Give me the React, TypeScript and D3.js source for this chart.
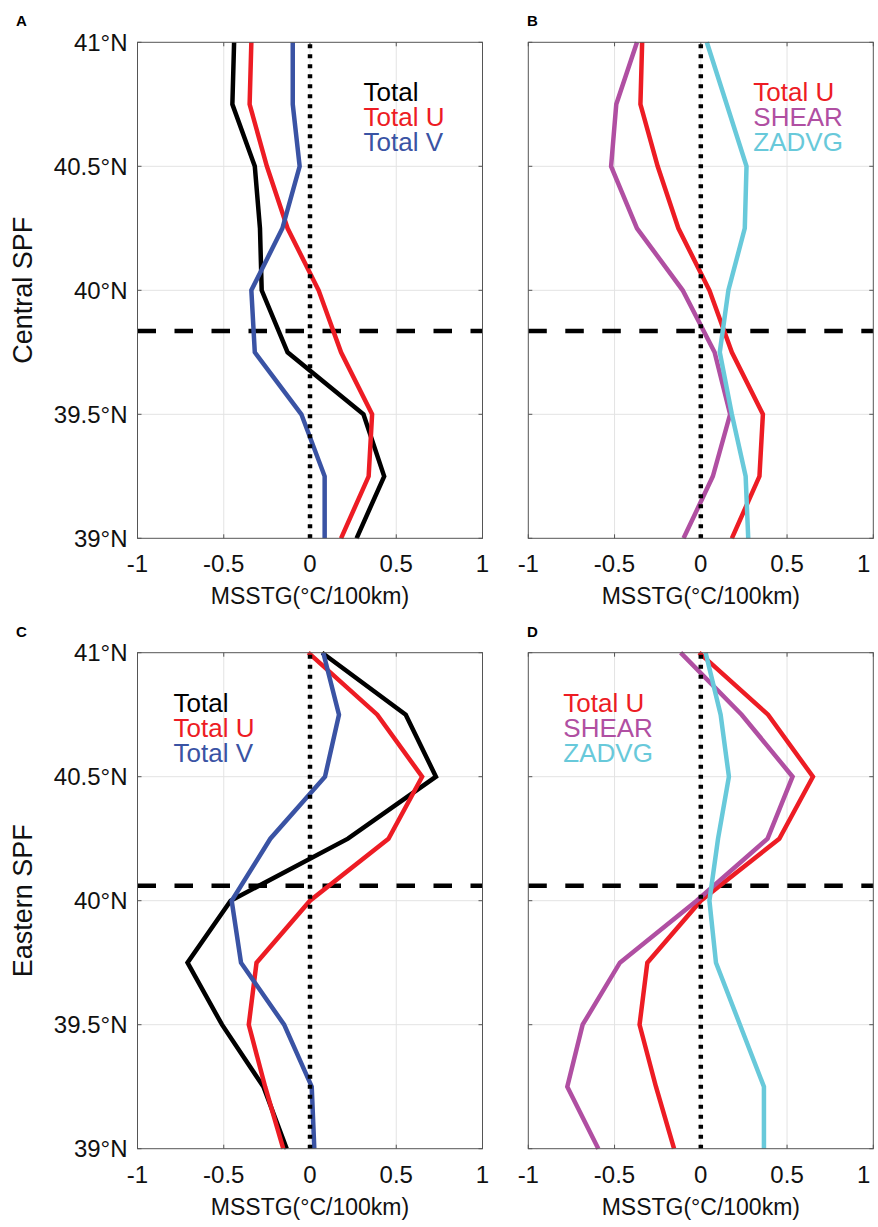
import { useEffect, useRef } from 'react';
import * as d3 from 'd3';

// latitude levels (top to bottom)
const lats = [41, 40.75, 40.5, 40.25, 40, 39.75, 39.5, 39.25, 39];

// Central SPF
const centralTotal = [-0.44, -0.45, -0.32, -0.29, -0.28, -0.13, 0.31, 0.43, 0.27];
const centralTotalU = [-0.34, -0.35, -0.25, -0.13, 0.05, 0.18, 0.36, 0.34, 0.18];
const centralTotalV = [-0.1, -0.1, -0.06, -0.16, -0.34, -0.32, -0.05, 0.085, 0.085];
const centralShear = [-0.37, -0.49, -0.52, -0.37, -0.105, 0.08, 0.17, 0.07, -0.1];
const centralZadvg = [0.035, 0.15, 0.265, 0.255, 0.16, 0.11, 0.18, 0.26, 0.275];

// Eastern SPF
const easternTotal = [0.07, 0.555, 0.73, 0.22, -0.46, -0.71, -0.51, -0.27, -0.135];
const easternTotalU = [-0.01, 0.39, 0.65, 0.455, 0.0, -0.31, -0.355, -0.26, -0.155];
const easternTotalV = [0.077, 0.168, 0.087, -0.23, -0.454, -0.4, -0.15, 0.01, 0.025];
const easternShear = [-0.117, 0.237, 0.532, 0.387, -0.024, -0.469, -0.685, -0.774, -0.594];
const easternZadvg = [0.028, 0.115, 0.163, 0.1, 0.05, 0.088, 0.227, 0.366, 0.366];

// front positions (dashed lines)
const centralFront = 39.836;
const easternFront = 40.06;

const xTicks = [-1, -0.5, 0, 0.5, 1];
const xTickLabels = ['-1', '-0.5', '0', '0.5', '1'];
const yTicks = [39, 39.5, 40, 40.5, 41];
const yTickLabels = ['39°N', '39.5°N', '40°N', '40.5°N', '41°N'];

const COLORS = {
  total: '#000000',
  totalU: '#ed1c24',
  totalV: '#3a53a4',
  shear: '#b04fa2',
  zadvg: '#68c9da',
};

const panels = [
  {
    label: 'A', labelX: 16, row: 'Central SPF', x0: 137.5, y0: 42.3, front: centralFront, legendDx: 226,
    series: [
      { name: 'Total', values: centralTotal, color: COLORS.total },
      { name: 'Total U', values: centralTotalU, color: COLORS.totalU },
      { name: 'Total V', values: centralTotalV, color: COLORS.totalV },
    ],
  },
  {
    label: 'B', labelX: 527, row: null, x0: 528.3, y0: 42.3, front: centralFront, legendDx: 225,
    series: [
      { name: 'Total U', values: centralTotalU, color: COLORS.totalU },
      { name: 'SHEAR', values: centralShear, color: COLORS.shear },
      { name: 'ZADVG', values: centralZadvg, color: COLORS.zadvg },
    ],
  },
  {
    label: 'C', labelX: 16, row: 'Eastern SPF', x0: 137.5, y0: 652.7, front: easternFront, legendDx: 36,
    series: [
      { name: 'Total', values: easternTotal, color: COLORS.total },
      { name: 'Total U', values: easternTotalU, color: COLORS.totalU },
      { name: 'Total V', values: easternTotalV, color: COLORS.totalV },
    ],
  },
  {
    label: 'D', labelX: 527, row: null, x0: 528.3, y0: 652.7, front: easternFront, legendDx: 35,
    series: [
      { name: 'Total U', values: easternTotalU, color: COLORS.totalU },
      { name: 'SHEAR', values: easternShear, color: COLORS.shear },
      { name: 'ZADVG', values: easternZadvg, color: COLORS.zadvg },
    ],
  },
];

const W = 878;
const H = 1227;
const PW = 345;
const PH = 496;
const FONT = '"Liberation Sans", Arial, Helvetica, sans-serif';

const App = () => {
  const svgRef = useRef<SVGSVGElement | null>(null);

  useEffect(() => {
    const svg = d3.select(svgRef.current);
    svg.selectAll('*').remove();

    svg.append('rect').attr('width', W).attr('height', H).attr('fill', '#fff');

    panels.forEach(p => {
      const x = d3.scaleLinear().domain([-1, 1]).range([0, PW]);
      const y = d3.scaleLinear().domain([39, 41]).range([PH, 0]);

      const g = svg.append('g').attr('transform', `translate(${p.x0},${p.y0})`);

      // grid
      g.selectAll('.gx')
        .data(xTicks.slice(1, -1))
        .enter()
        .append('line')
        .attr('x1', d => x(d)).attr('x2', d => x(d))
        .attr('y1', 0).attr('y2', PH)
        .attr('stroke', '#e3e3e3').attr('stroke-width', 1);
      g.selectAll('.gy')
        .data(yTicks.slice(1, -1))
        .enter()
        .append('line')
        .attr('x1', 0).attr('x2', PW)
        .attr('y1', d => y(d)).attr('y2', d => y(d))
        .attr('stroke', '#e3e3e3').attr('stroke-width', 1);

      // tick marks (inward, all four sides)
      const tk = 4;
      xTicks.forEach(t => {
        g.append('line').attr('x1', x(t)).attr('x2', x(t)).attr('y1', PH).attr('y2', PH - tk)
          .attr('stroke', '#555').attr('stroke-width', 1);
        g.append('line').attr('x1', x(t)).attr('x2', x(t)).attr('y1', 0).attr('y2', tk)
          .attr('stroke', '#555').attr('stroke-width', 1);
      });
      yTicks.forEach(t => {
        g.append('line').attr('x1', 0).attr('x2', tk).attr('y1', y(t)).attr('y2', y(t))
          .attr('stroke', '#555').attr('stroke-width', 1);
        g.append('line').attr('x1', PW).attr('x2', PW - tk).attr('y1', y(t)).attr('y2', y(t))
          .attr('stroke', '#555').attr('stroke-width', 1);
      });

      // front (dashed)
      g.append('line')
        .attr('x1', 0).attr('x2', PW)
        .attr('y1', y(p.front)).attr('y2', y(p.front))
        .attr('stroke', '#000').attr('stroke-width', 4.5)
        .attr('stroke-dasharray', '18.5,18.5');

      // series
      const line = d3.line<number>()
        .x(d => x(d))
        .y((_, i) => y(lats[i]));
      p.series.forEach(s => {
        g.append('path')
          .datum(s.values)
          .attr('d', line)
          .attr('fill', 'none')
          .attr('stroke', s.color)
          .attr('stroke-width', 4.5)
          .attr('stroke-linejoin', 'miter');
      });

      // zero line (dotted)
      g.append('line')
        .attr('x1', x(0)).attr('x2', x(0))
        .attr('y1', 2).attr('y2', PH)
        .attr('stroke', '#000').attr('stroke-width', 4.5)
        .attr('stroke-dasharray', '4,6');

      // box
      g.append('rect')
        .attr('width', PW).attr('height', PH)
        .attr('fill', 'none').attr('stroke', '#555').attr('stroke-width', 1);

      // tick labels (right-most one on the right column is pulled in to stay on the page)
      const clip = p.x0 + PW + 12 > W;
      g.selectAll('.xl')
        .data(xTicks)
        .enter()
        .append('text')
        .attr('x', (d, i) => (clip && i === xTicks.length - 1 ? x(d) - 3 : x(d)))
        .attr('y', PH + 34)
        .attr('text-anchor', (_, i) => (clip && i === xTicks.length - 1 ? 'end' : 'middle'))
        .style('font-family', FONT)
        .style('font-size', '24px')
        .style('fill', '#111')
        .text((_, i) => xTickLabels[i]);
      if (p.row) {
        g.selectAll('.yl')
          .data(yTicks)
          .enter()
          .append('text')
          .attr('x', -10)
          .attr('y', d => y(d) + 8.5)
          .attr('text-anchor', 'end')
          .style('font-family', FONT)
          .style('font-size', '24px')
          .style('fill', '#111')
          .text((_, i) => yTickLabels[i]);
        g.append('text')
          .attr('transform', `translate(${-106},${PH / 2}) rotate(-90)`)
          .attr('text-anchor', 'middle')
          .style('font-family', FONT)
          .style('font-size', '27px')
          .style('fill', '#111')
          .text(p.row);
      }

      // axis title
      g.append('text')
        .attr('x', PW / 2)
        .attr('y', PH + 66)
        .attr('text-anchor', 'middle')
        .style('font-family', FONT)
        .style('font-size', '23px')
        .style('fill', '#111')
        .text('MSSTG(°C/100km)');

      // legend
      p.series.forEach((s, i) => {
        g.append('text')
          .attr('x', p.legendDx)
          .attr('y', 59 + i * 25)
          .style('font-family', FONT)
          .style('font-size', '26px')
          .style('fill', s.color)
          .text(s.name);
      });

      // panel label
      svg.append('text')
        .attr('x', p.labelX)
        .attr('y', p.y0 - 16)
        .style('font-family', FONT)
        .style('font-size', '15px')
        .style('font-weight', 'bold')
        .style('fill', '#000')
        .text(p.label);
    });
  }, []);

  return (
    <div style={{ position: 'absolute', left: 0, top: 0 }}>
      <svg ref={svgRef} width={W} height={H} />
    </div>
  );
};

export default App;
